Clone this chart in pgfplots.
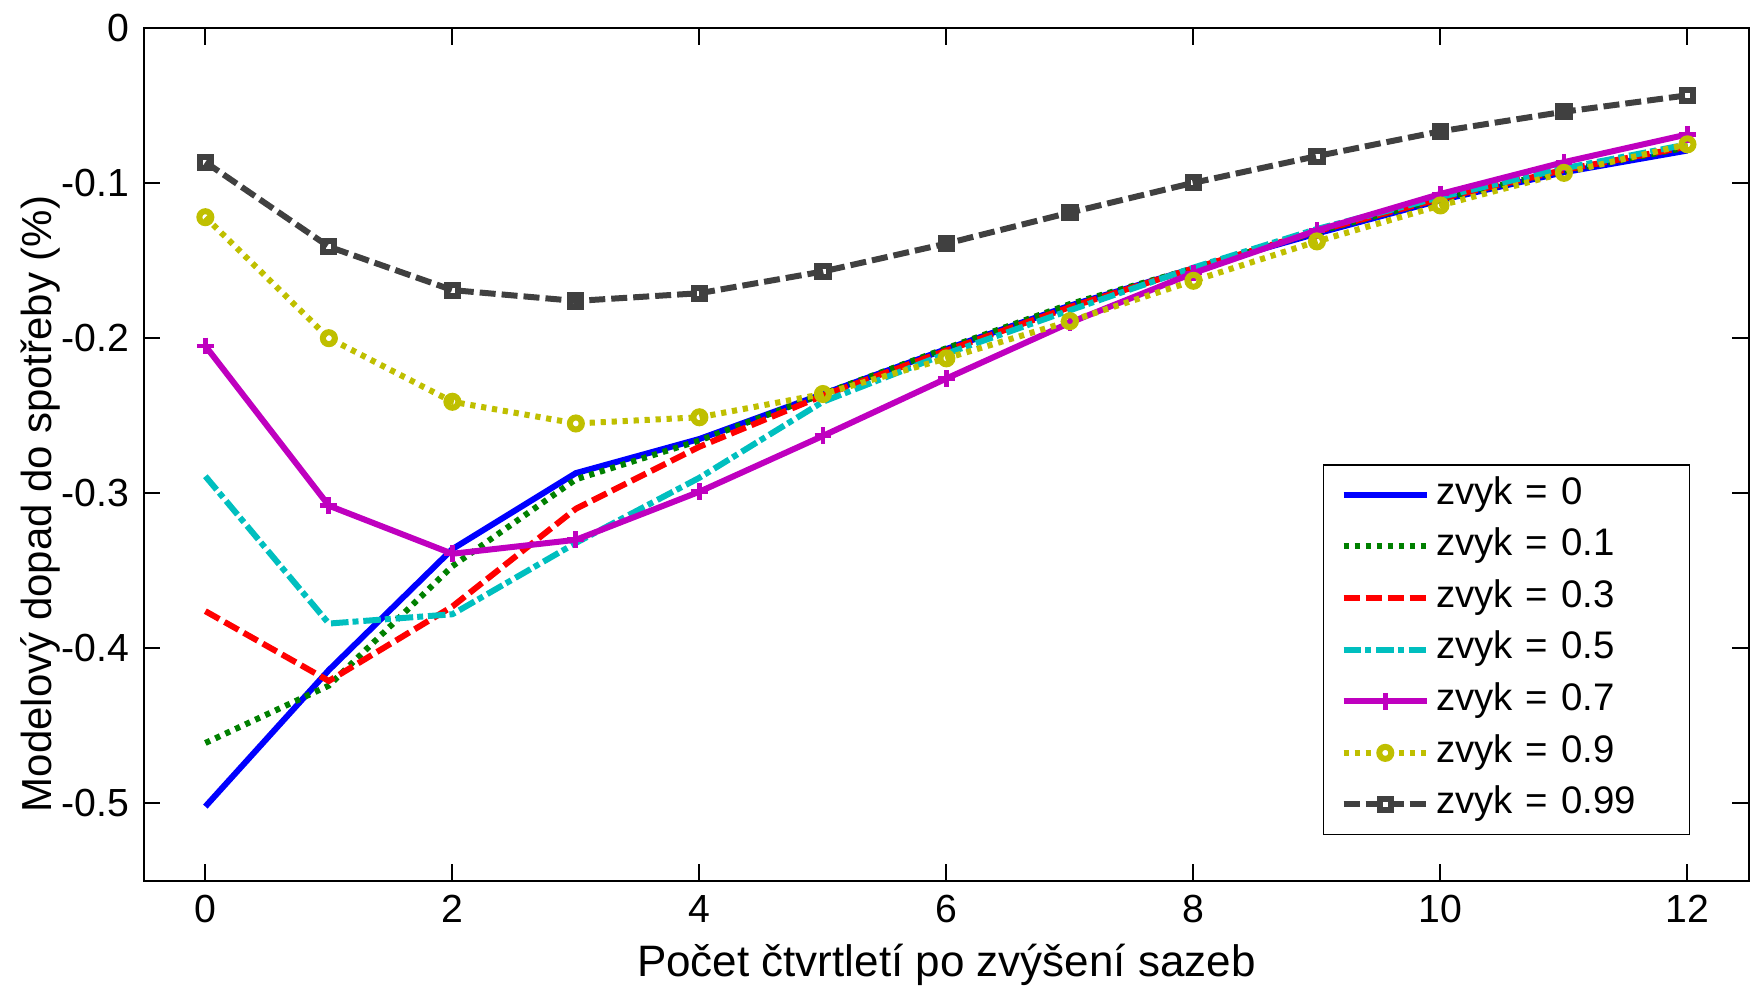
\documentclass[border=0pt]{standalone}
\usepackage{fontspec}
\setmainfont{Liberation Sans}
\usepackage{pgfplots}
\usepackage{pgfplotstable}
\pgfplotsset{compat=1.18}

\definecolor{mblue}{rgb}{0,0,1}
\definecolor{mgreen}{rgb}{0,0.5,0}
\definecolor{mred}{rgb}{1,0,0}
\definecolor{mcyan}{rgb}{0,0.75,0.75}
\definecolor{mmag}{rgb}{0.75,0,0.75}
\definecolor{myel}{rgb}{0.75,0.75,0}
\definecolor{mdark}{rgb}{0.25,0.25,0.25}

% x = quarters after the rate hike, columns = habit parameter
\pgfplotstableread{
x   z0      z01     z03     z05     z07     z09     z099
0   -0.502  -0.461  -0.376  -0.289  -0.205  -0.122  -0.0865
1   -0.414  -0.424  -0.421  -0.384  -0.308  -0.200  -0.141
2   -0.336  -0.347  -0.373  -0.378  -0.339  -0.241  -0.169
3   -0.287  -0.291  -0.310  -0.332  -0.330  -0.255  -0.176
4   -0.265  -0.266  -0.270  -0.290  -0.299  -0.251  -0.171
5   -0.236  -0.236  -0.237  -0.241  -0.263  -0.236  -0.157
6   -0.207  -0.2065 -0.208  -0.210  -0.226  -0.213  -0.139
7   -0.179  -0.178  -0.180  -0.182  -0.190  -0.189  -0.119
8   -0.155  -0.155  -0.155  -0.1545 -0.158  -0.163  -0.0998
9   -0.1325 -0.1315 -0.131  -0.1296 -0.1305 -0.1376 -0.0826
10  -0.111  -0.110  -0.110  -0.109  -0.107  -0.1144 -0.0666
11  -0.093  -0.092  -0.0915 -0.0905 -0.0865 -0.0934 -0.054
12  -0.079  -0.077  -0.0765 -0.075  -0.0686 -0.075  -0.0434
}\habit

\begin{document}
\begin{tikzpicture}
\begin{axis}[
    name=ax,
    scale only axis,
    width=401.4pt, height=213.25pt,
    xmin=-0.5, xmax=12.5,
    ymin=-0.55, ymax=0,
    xtick={0,2,4,6,8,10,12},
    xticklabels={0,2,4,6,8,10,12},
    ytick={-0.5,-0.4,-0.3,-0.2,-0.1,0},
    yticklabels={-0.5,-0.4,-0.3,-0.2,-0.1,0},
    tick align=inside,
    major tick length=4.2pt,
    axis line style={line width=0.5pt},
    every tick/.style={black, line width=0.5pt},
    tick label style={font=\fontsize{9.8}{11}\selectfont},
    ylabel style={font=\fontsize{10.5}{12}\selectfont},
    xlabel style={font=\fontsize{11}{12}\selectfont, yshift=1.5pt},
    xlabel={Počet čtvrtletí po zvýšení sazeb},
    ylabel={Modelový dopad do spotřeby (\%)},
    ylabel style={at={([xshift=-30.9pt]rel axis cs:0,0.442)}, anchor=north, inner sep=0pt},
    legend style={
        at={(0.7343,0.4889)}, anchor=north west,
        draw=black, line width=0.45pt,
        inner xsep=4.3pt, inner ysep=3.2pt,
        font=\fontsize{9.6}{10}\selectfont,
        nodes={inner xsep=1pt, inner ysep=0pt, text height=6.6pt, text depth=2pt, text width=58pt},
        row sep=4.3pt, column sep=0.6pt,
    },
    legend cell align=left,
    legend image code/.code={
        \draw[mark repeat=2, mark phase=2] plot coordinates {(0pt,0pt) (10.4pt,0pt) (20.8pt,0pt)};
    },
    every axis plot/.append style={line width=1.5pt},
]
\addplot[mblue, solid] table[x=x, y=z0] {\habit};
\addlegendentry{zvyk = 0}
\addplot[mgreen, dash pattern=on 1.3pt off 1.45pt] table[x=x, y=z01] {\habit};
\addlegendentry{zvyk = 0.1}
\addplot[mred, dash pattern=on 4pt off 1.5pt] table[x=x, y=z03] {\habit};
\addlegendentry{zvyk = 0.3}
\addplot[mcyan, dash pattern=on 4.4pt off 1pt on 1.5pt off 1.2pt] table[x=x, y=z05] {\habit};
\addlegendentry{zvyk = 0.5}
\addplot[mmag, solid, mark=+, mark size=2.1pt, mark options={solid, line width=1.2pt}] table[x=x, y=z07] {\habit};
\addlegendentry{zvyk = 0.7}
\addplot[myel, dash pattern=on 1.3pt off 1.45pt, mark=o, mark size=1.5pt, mark options={solid, fill=white, line width=1.5pt}] table[x=x, y=z09] {\habit};
\addlegendentry{zvyk = 0.9}
\addplot[mdark, dash pattern=on 4pt off 1.5pt, mark=square, mark size=1.4pt, mark options={solid, fill=white, line width=1.5pt}] table[x=x, y=z099] {\habit};
\addlegendentry{zvyk = 0.99}
\end{axis}
\path ([xshift=-35.9pt, yshift=7pt]ax.north west) rectangle ([xshift=3.7pt, yshift=-24.5pt]ax.south east);
\end{tikzpicture}
\end{document}
